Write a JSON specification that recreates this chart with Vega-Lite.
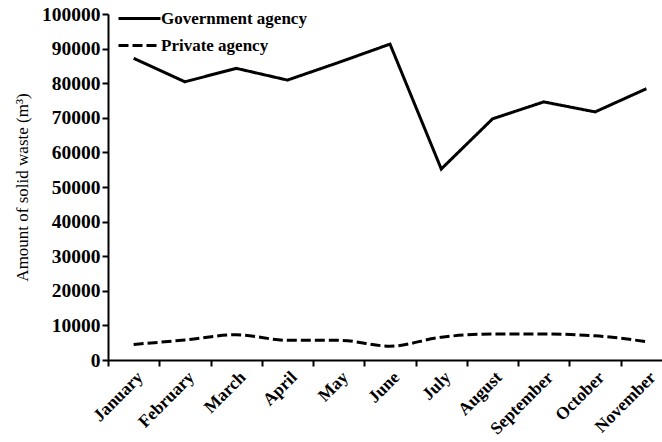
{
  "$schema": "https://vega.github.io/schema/vega-lite/v6.json",
  "autosize": "none",
  "padding": {"left": 108, "top": 14, "right": -10, "bottom": 83},
  "width": 564,
  "height": 346,
  "background": "white",
  "config": {
    "view": {"stroke": null},
    "font": "Liberation Serif",
    "axis": {
      "domainColor": "black",
      "domainWidth": 2,
      "tickColor": "black",
      "tickWidth": 2,
      "tickSize": 6,
      "grid": false,
      "labelFont": "Liberation Serif",
      "labelFontWeight": "bold",
      "labelColor": "black",
      "titleFont": "Liberation Serif",
      "titleFontWeight": "normal",
      "titleColor": "black"
    }
  },
  "data": {
    "values": [
      {"month": "January", "series": "Government agency", "waste": 87200},
      {"month": "February", "series": "Government agency", "waste": 80400},
      {"month": "March", "series": "Government agency", "waste": 84300},
      {"month": "April", "series": "Government agency", "waste": 80900},
      {"month": "May", "series": "Government agency", "waste": 86000},
      {"month": "June", "series": "Government agency", "waste": 91300},
      {"month": "July", "series": "Government agency", "waste": 55200},
      {"month": "August", "series": "Government agency", "waste": 69700},
      {"month": "September", "series": "Government agency", "waste": 74600},
      {"month": "October", "series": "Government agency", "waste": 71700},
      {"month": "November", "series": "Government agency", "waste": 78400},
      {"month": "January", "series": "Private agency", "waste": 4500},
      {"month": "February", "series": "Private agency", "waste": 5800},
      {"month": "March", "series": "Private agency", "waste": 7300},
      {"month": "April", "series": "Private agency", "waste": 5700},
      {"month": "May", "series": "Private agency", "waste": 5700},
      {"month": "June", "series": "Private agency", "waste": 4000},
      {"month": "July", "series": "Private agency", "waste": 6600},
      {"month": "August", "series": "Private agency", "waste": 7500},
      {"month": "September", "series": "Private agency", "waste": 7500},
      {"month": "October", "series": "Private agency", "waste": 7000},
      {"month": "November", "series": "Private agency", "waste": 5300}
    ]
  },
  "encoding": {
    "x": {
      "field": "month",
      "type": "ordinal",
      "sort": ["January","February","March","April","May","June","July","August","September","October","November"],
      "bandPosition": 0.5,
      "scale": {"type": "band", "paddingInner": 0, "paddingOuter": 0},
      "axis": {"title": null, "labelAngle": -45, "labelAlign": "right", "labelBaseline": "top", "labelFontSize": 17.5, "tickBand": "extent", "labelPadding": 2}
    },
    "y": {
      "field": "waste",
      "type": "quantitative",
      "scale": {"domain": [0, 100000], "nice": false, "zero": true},
      "axis": {"title": "Amount of solid waste (m³)", "titleFontSize": 17, "values": [0,10000,20000,30000,40000,50000,60000,70000,80000,90000,100000], "format": "d", "labelFontSize": 19.5, "labelPadding": 2, "titlePadding": 10}
    },
    "strokeDash": {
      "field": "series",
      "type": "nominal",
      "scale": {"domain": ["Government agency", "Private agency"], "range": [[1, 0], [10, 4]]},
      "legend": {
        "title": null,
        "orient": "none",
        "legendX": 23,
        "legendY": -4,
        "symbolType": "M-3,0H3",
        "symbolSize": 196,
        "symbolStrokeWidth": 3,
        "symbolStrokeColor": "black",
        "symbolFillColor": "transparent",
        "labelFont": "Liberation Serif",
        "labelFontSize": 17,
        "labelFontWeight": "bold",
        "labelColor": "black",
        "labelOffset": 13,
        "rowPadding": 9
      }
    }
  },
  "layer": [
    {
      "transform": [{"filter": "datum.series === 'Government agency'"}],
      "mark": {"type": "line", "color": "black", "strokeWidth": 3, "interpolate": "linear"}
    },
    {
      "transform": [{"filter": "datum.series === 'Private agency'"}],
      "mark": {"type": "line", "color": "black", "strokeWidth": 3, "interpolate": "monotone"}
    }
  ]
}
